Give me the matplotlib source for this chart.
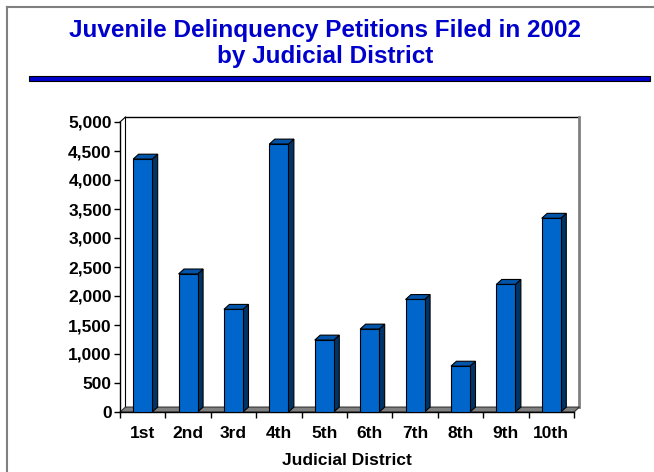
import matplotlib
matplotlib.use("Agg")
import numpy as np
from matplotlib import pyplot as plt
from matplotlib.patches import Polygon, Rectangle
from matplotlib.ticker import FuncFormatter

districts = ["1st", "2nd", "3rd", "4th", "5th", "6th", "7th", "8th", "9th", "10th"]
petitions = [4360, 2380, 1770, 4620, 1240, 1430, 1940, 790, 2200, 3340]
y_ticks = list(range(0, 5001, 500))

title1 = "Juvenile Delinquency Petitions Filed in 2002"
title2 = "by Judicial District"
xlabel = "Judicial District"

plt.rcParams['font.family'] = ['Liberation Sans', 'DejaVu Sans']
W, H = 654, 472
fig = plt.figure(figsize=(W / 100, H / 100), dpi=100)

# frame around the slide
fig.add_artist(plt.Line2D([6.5 / W, 6.5 / W], [0, 1 - 6.5 / H], color='#808080', lw=1.5))
fig.add_artist(plt.Line2D([6.5 / W, 1], [1 - 6.5 / H, 1 - 6.5 / H], color='#808080', lw=1.5))

fig.text(325 / W, 1 - 37 / H, title1, ha='center', va='baseline',
         fontsize=17.5, fontweight='bold', color='#0000CC')
fig.text(325 / W, 1 - 63 / H, title2, ha='center', va='baseline',
         fontsize=17.5, fontweight='bold', color='#0000CC')
fig.add_artist(Rectangle((29 / W, 1 - 81 / H), 621 / W, 5 / H, transform=fig.transFigure,
                         facecolor='#0000CC', edgecolor='black', lw=0.8))

ax = fig.add_axes([120 / W, 60 / H, 454 / W, 290 / H])
n = len(districts)
ax.set_xlim(0, n)
ax.set_ylim(0, 5000)

dx, dy = 0.12, 85  # depth of the 3d look

# walls and floor
ax.add_patch(Polygon([(dx, dy), (n + dx, dy), (n + dx, 5000 + dy), (dx, 5000 + dy)],
                     closed=True, facecolor='white', edgecolor='none', clip_on=False, zorder=0))
ax.plot([dx, n + dx], [5000 + dy, 5000 + dy], color='black', lw=1, clip_on=False, zorder=1)
ax.plot([dx, dx], [dy, 5000 + dy], color='black', lw=0.8, clip_on=False, zorder=1)
ax.plot([0, dx], [5000, 5000 + dy], color='black', lw=0.8, clip_on=False, zorder=1)
ax.plot([n + dx, n + dx], [dy, 5000 + dy], color='#808080', lw=2, clip_on=False, zorder=1)
ax.add_patch(Polygon([(0, 0), (n, 0), (n + dx, dy), (dx, dy)], closed=True,
                     facecolor='#808080', edgecolor='#333333', lw=0.8, clip_on=False, zorder=2))

x = np.arange(n) + 0.5
bw = 0.42
ax.bar(x, petitions, width=bw, color='#0066CC', edgecolor='black', lw=0.8, zorder=5)
for xi, v in zip(x, petitions):
    r = xi + bw / 2
    l = xi - bw / 2
    ax.add_patch(Polygon([(r, 0), (r + dx, dy), (r + dx, v + dy), (r, v)], closed=True,
                         facecolor='#003366', edgecolor='black', lw=0.8, clip_on=False, zorder=4))
    ax.add_patch(Polygon([(l, v), (r, v), (r + dx, v + dy), (l + dx, v + dy)], closed=True,
                         facecolor='#0055AA', edgecolor='black', lw=0.8, clip_on=False, zorder=4))

for s in ['top', 'right']:
    ax.spines[s].set_visible(False)
ax.spines['left'].set_linewidth(1)
ax.spines['bottom'].set_linewidth(1)
ax.patch.set_visible(False)

ax.set_yticks(y_ticks)
ax.yaxis.set_major_formatter(FuncFormatter(lambda v, p: f"{int(v):,}"))
ax.tick_params(axis='y', direction='out', length=4, width=1, pad=2, labelsize=12.5)
ax.set_xticks(np.arange(n + 1))
ax.set_xticklabels([])
ax.set_xticks(x, minor=True)
ax.set_xticklabels(districts, minor=True)
ax.tick_params(axis='x', which='major', direction='out', length=4.5, width=1)
ax.tick_params(axis='x', which='minor', length=0, pad=10, labelsize=12.5)
for t in ax.get_yticklabels() + ax.get_xticklabels(minor=True):
    t.set_fontweight('bold')
ax.set_xlabel(xlabel, fontsize=12.5, fontweight='bold', labelpad=9)

fig.savefig("out.png", dpi=100)
